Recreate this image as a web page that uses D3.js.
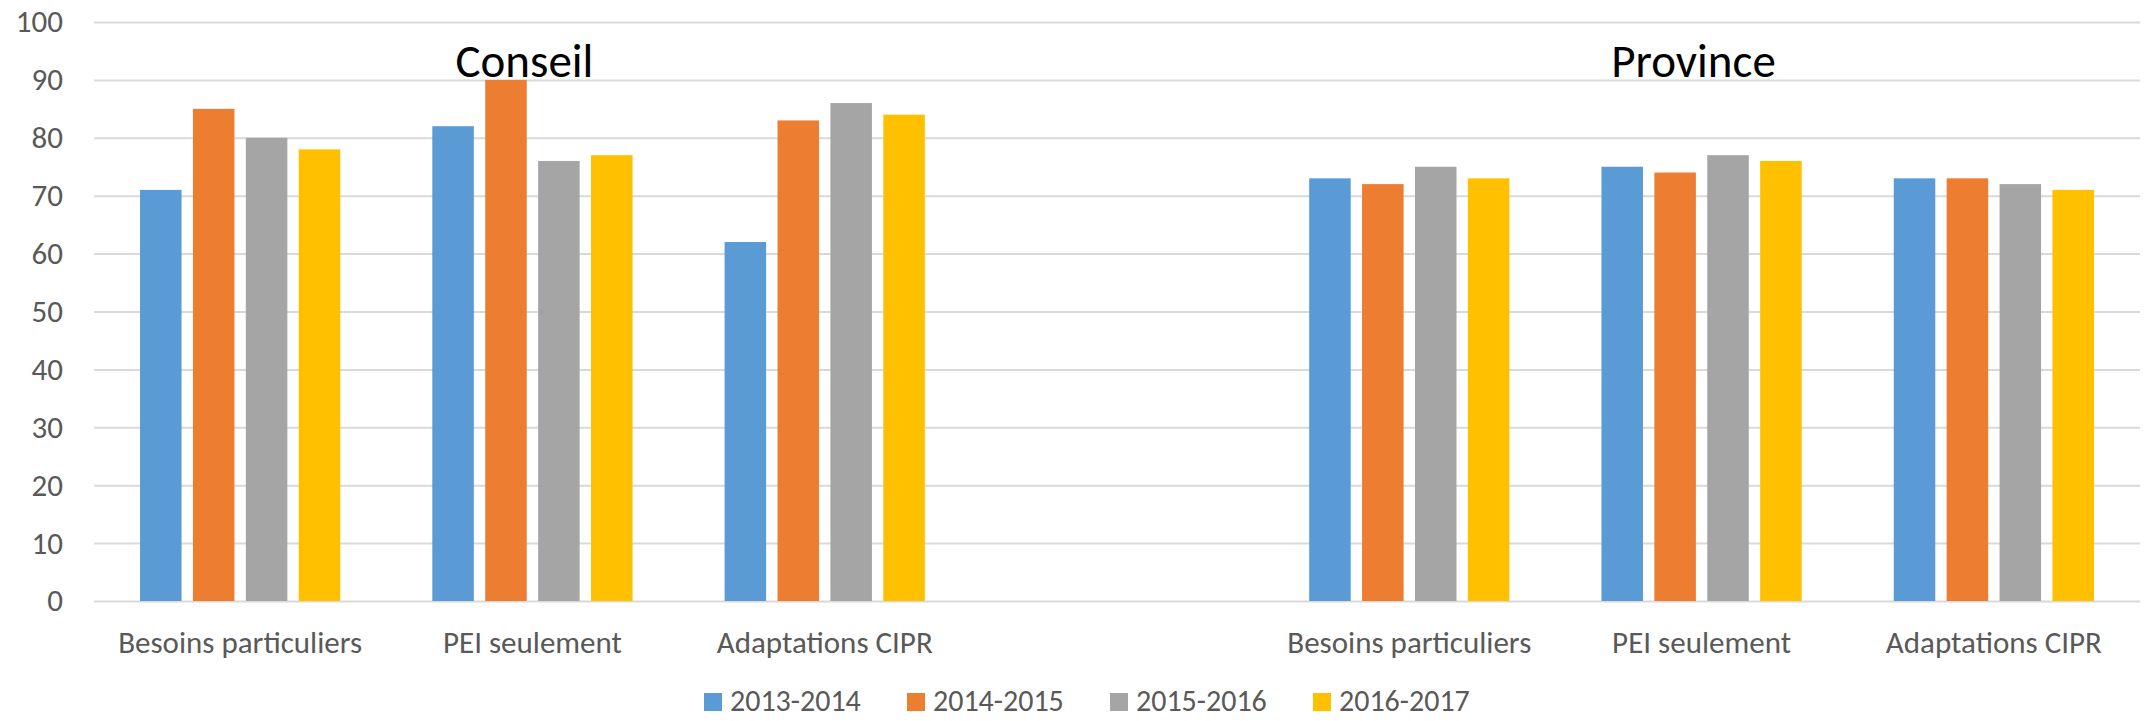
<!DOCTYPE html>
<html>
<head>
<meta charset="utf-8">
<script src="https://cdn.jsdelivr.net/npm/d3@7"></script>
<style>
  html, body { margin: 0; padding: 0; background: #fff; }
  svg text { font-family: Carlito, "Liberation Sans Narrow", "DejaVu Sans Condensed", sans-serif; }
</style>
</head>
<body>
<svg id="graph" width="2147" height="721"></svg>
<script>
// categories (slot 3 is the empty gap between the two groups)
var categories = ["Besoins particuliers", "PEI seulement", "Adaptations CIPR", "", "Besoins particuliers", "PEI seulement", "Adaptations CIPR"];
var years = ["2013-2014", "2014-2015", "2015-2016", "2016-2017"];
var colors = ["#5B9BD5", "#ED7D31", "#A5A5A5", "#FFC000"];

// one array per year, in category order (null = no bar)
var v2013 = [71, 82, 62, null, 73, 75, 73];
var v2014 = [85, 90, 83, null, 72, 74, 73];
var v2015 = [80, 76, 86, null, 75, 77, 72];
var v2016 = [78, 77, 84, null, 73, 76, 71];
var series = [v2013, v2014, v2015, v2016];

var yTicks = [0, 10, 20, 30, 40, 50, 60, 70, 80, 90, 100];
var groupTitles = [{ label: "Conseil", slot: 1 }, { label: "Province", slot: 5 }];

// zone du graphique
var plotLeft = 94, plotRight = 2140, plotTop = 22, plotBottom = 601;

var svg = d3.select("#graph");

// scaleX : un slot par catégorie
var scaleX = d3.scaleBand()
  .domain(d3.range(categories.length))
  .range([plotLeft, plotRight])
  .padding(0);

// scale interne pour les années
var scaleInner = d3.scaleBand()
  .domain(years)
  .range([0, scaleX.bandwidth()])
  .paddingInner(0.215)
  .paddingOuter(0.87);

var scaleY = d3.scaleLinear().domain([0, 100]).range([plotBottom, plotTop]);

// grille + axe Y
var yAxis = d3.axisLeft(scaleY)
  .tickValues(yTicks)
  .tickSize(-(plotRight - plotLeft))
  .tickPadding(31);
var gy = svg.append("g")
  .attr("transform", "translate(" + plotLeft + ",0)")
  .call(yAxis);
gy.attr("font-family", null);
gy.select(".domain").remove();
gy.selectAll(".tick line").attr("stroke", "#d9d9d9").attr("stroke-width", 2);
gy.selectAll(".tick text")
  .attr("fill", "#595959")
  .attr("font-size", 31);

// barres
series.forEach(function (vals, s) {
  svg.append("g")
    .attr("fill", colors[s])
    .selectAll("rect")
    .data(vals.map(function (v, i) { return { v: v, i: i }; }).filter(function (d) { return d.v !== null; }))
    .enter().append("rect")
    .attr("x", function (d) { return scaleX(d.i) + scaleInner(years[s]); })
    .attr("width", scaleInner.bandwidth())
    .attr("y", function (d) { return scaleY(d.v); })
    .attr("height", function (d) { return scaleY(0) - scaleY(d.v); });
});

// étiquettes des catégories
var xAxis = d3.axisBottom(scaleX)
  .tickFormat(function (i) { return categories[i]; })
  .tickSize(0)
  .tickPadding(0);
var gx = svg.append("g")
  .attr("transform", "translate(0," + plotBottom + ")")
  .call(xAxis);
gx.attr("font-family", null);
gx.select(".domain").remove();
gx.selectAll(".tick text")
  .attr("dy", null)
  .attr("y", 52)
  .attr("fill", "#595959")
  .attr("font-size", 31);

// titres des groupes
svg.append("g").selectAll("text")
  .data(groupTitles)
  .enter().append("text")
  .attr("x", function (d) { return scaleX(d.slot) + scaleX.bandwidth() / 2 - 8; })
  .attr("y", 77)
  .attr("text-anchor", "middle")
  .attr("font-size", 47)
  .attr("fill", "#000")
  .text(function (d) { return d.label; });

// légende
var legend = svg.append("g").attr("transform", "translate(704,711)");
var item = legend.selectAll("g")
  .data(years)
  .enter().append("g")
  .attr("transform", function (d, i) { return "translate(" + (i * 203) + ",0)"; });
item.append("rect")
  .attr("x", 0).attr("y", -18)
  .attr("width", 18).attr("height", 18)
  .attr("fill", function (d, i) { return colors[i]; });
item.append("text")
  .attr("x", 26).attr("y", 0)
  .attr("font-size", 30)
  .attr("fill", "#595959")
  .text(function (d) { return d; });
</script>
</body>
</html>
